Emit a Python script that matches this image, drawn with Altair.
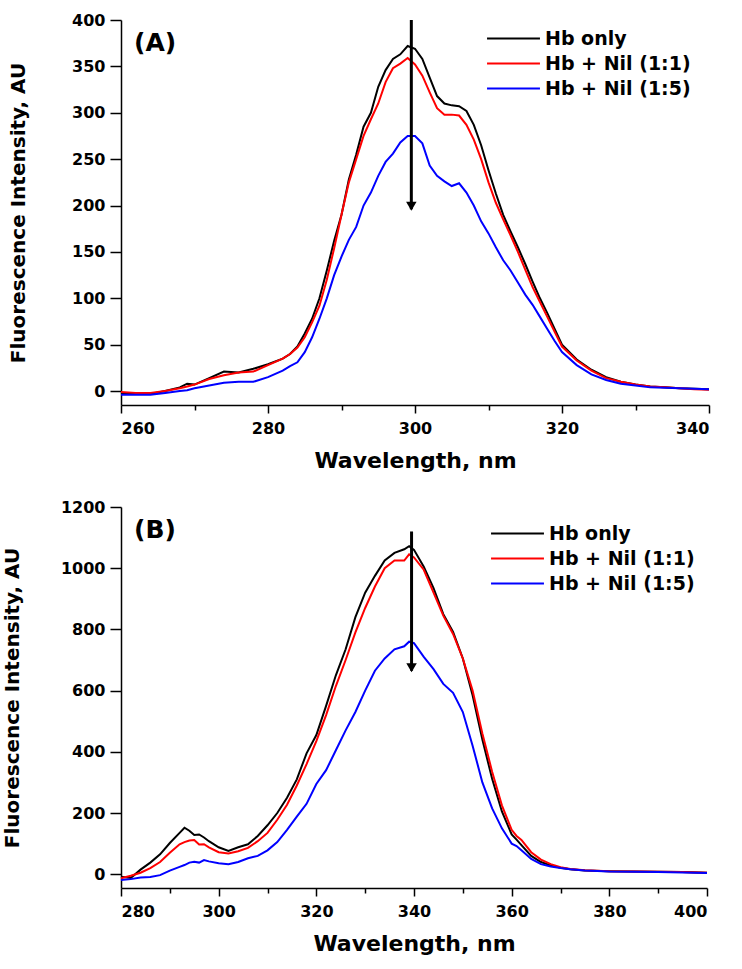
import altair as alt
import pandas as pd

FONT = "DejaVu Sans"
SERIES = ["Hb only", "Hb + Nil (1:1)", "Hb + Nil (1:5)"]
COLORS = ["#000000", "#ff0000", "#0000ff"]

# ---- Panel A: emission spectra, 260-340 nm ----
wl_a = [260, 262, 264, 266, 268, 269, 270, 272, 274, 276, 278, 280, 282,
        283, 284, 285, 286, 287, 288, 289, 290, 291, 292, 293, 294, 295,
        296, 297, 298, 299, 300, 301, 302, 303, 304, 305, 306, 307, 308,
        309, 310, 311, 312, 313, 314, 315, 316, 317, 318, 319, 320, 322,
        324, 326, 328, 330, 332, 334, 336, 338, 340]
hb_a = [-2, -3, -3, 0, 4, 8, 7, 14, 21, 20, 24, 29, 35,
        40, 48, 62, 78, 100, 130, 162, 190, 228, 255, 285, 300, 328,
        346, 358, 363, 372, 369, 358, 338, 318, 310, 308, 307, 302, 287,
        265, 238, 213, 190, 172, 155, 137, 118, 100, 84, 67, 50, 34,
        23, 15, 10, 7, 5, 4, 3, 2.5, 2]
nil11_a = [-1, -2, -2, 0, 3, 5, 7, 13, 17, 20, 21, 28, 35,
           40, 47, 58, 74, 92, 120, 154, 190, 225, 250, 275, 293, 310,
           333, 348, 353, 359, 352, 340, 322, 305, 298, 298, 297, 287, 271,
           250, 225, 203, 185, 168, 150, 131, 112, 96, 80, 64, 48, 33,
           22, 14, 10, 7, 5, 4, 3, 2, 1.5]
nil15_a = [-4, -4, -4, -2, 0, 1, 3, 6, 9, 10, 10, 15, 22,
           27, 31, 42, 58, 78, 100, 125, 145, 163, 177, 200, 214, 232,
           247, 256, 268, 275, 275, 267, 243, 232, 226, 221, 224, 214, 200,
           183, 170, 155, 141, 130, 117, 104, 93, 80, 67, 54, 42, 28,
           18, 12, 8, 6, 4, 3.5, 3, 2.5, 2]

# ---- Panel B: emission spectra, 280-400 nm ----
wl_b = [280, 282, 284, 286, 288, 290, 292, 293, 294, 295, 296, 297, 298,
        300, 302, 304, 306, 308, 310, 312, 314, 316, 318, 320, 322, 324,
        326, 328, 330, 332, 334, 336, 338, 339, 340, 342, 344, 346, 348,
        350, 352, 354, 356, 358, 360, 361, 362, 364, 366, 368, 370, 372,
        375, 380, 385, 390, 395, 400]
hb_b = [-8, -12, 15, 38, 65, 102, 135, 152, 142, 128, 130, 120, 108,
        88, 76, 88, 98, 125, 160, 200, 250, 310, 395, 455, 550, 650,
        735, 840, 920, 975, 1025, 1050, 1062, 1072, 1060, 1005, 935, 850, 792,
        705, 585, 440, 312, 205, 130, 113, 95, 60, 40, 29, 21, 16,
        12, 10, 9, 8, 7, 5]
nil11_b = [-13, -5, 5, 20, 40, 70, 98, 105, 110, 112, 97, 98, 88,
           72, 68, 75, 86, 108, 135, 178, 227, 290, 360, 435, 520, 615,
           700, 790, 870, 940, 1000, 1025, 1025, 1045, 1035, 995, 920, 845, 785,
           705, 600, 460, 335, 225, 145, 125, 112, 72, 48, 33, 23, 17,
           13, 10, 9, 8, 7, 5]
nil15_b = [-19, -16, -11, -9, -3, 12, 24, 30, 38, 41, 38, 46, 42,
           36, 33, 40, 52, 60, 78, 105, 145, 188, 230, 295, 340, 405,
           470, 530, 600, 665, 705, 735, 745, 760, 755, 710, 670, 622, 593,
           530, 420, 300, 215, 150, 100, 92, 78, 50, 33, 25, 20, 16,
           12, 9, 8, 7, 6, 4]

# Quenching arrows: wavelength, start and tip intensity
arrow_a = {"x": [299.5], "y1": [400], "y2": [196]}
arrow_b = {"x": [339.5], "y1": [1120], "y2": [665]}

# Axis ticks (major ticks carry labels)
xticks_a = list(range(260, 341, 10))
yticks_a = list(range(0, 401, 25))
xticks_b = list(range(280, 401, 10))
yticks_b = list(range(0, 1201, 100))


def long_table(wl, series_values):
    rows = []
    for rank, (name, vals) in enumerate(zip(SERIES, series_values)):
        for w, v in zip(wl, vals):
            rows.append({"wavelength": w, "intensity": v, "series": name, "rank": rank})
    return pd.DataFrame(rows)


def panel(df, tag, xdom, ydom, xticks, yticks, xstep, ystep, arrow,
          width, height, title_pad, legend_x, legend_y):
    x_axis = alt.Axis(
        values=xticks, format="d",
        labelExpr=f"datum.value % {xstep} === 0 ? datum.label : ''",
        tickSize={"condition": {"test": f"datum.value % {xstep} === 0", "value": 8}, "value": 5},
        labelPadding=7, title="Wavelength, nm", titleFontSize=22, titlePadding=14,
    )
    y_axis = alt.Axis(
        values=yticks, format="d",
        labelExpr=f"datum.value % {ystep} === 0 ? datum.label : ''",
        tickSize={"condition": {"test": f"datum.value % {ystep} === 0", "value": 11}, "value": 6},
        labelPadding=5, title="Fluorescence Intensity, AU", titleFontSize=20,
        titlePadding=title_pad,
    )
    xs = alt.Scale(domain=xdom, nice=False, zero=False)
    ys = alt.Scale(domain=ydom, nice=False, zero=False)

    lines = alt.Chart(df).mark_line(strokeWidth=2).encode(
        x=alt.X("wavelength:Q", scale=xs, axis=x_axis),
        y=alt.Y("intensity:Q", scale=ys, axis=y_axis),
        color=alt.Color(
            "series:N",
            scale=alt.Scale(domain=SERIES, range=COLORS),
            sort=SERIES,
            legend=alt.Legend(
                orient="none", legendX=legend_x, legendY=legend_y, title=None,
                symbolType="M-10,0H10", symbolSize=28, symbolStrokeWidth=2,
                labelFont=FONT, labelFontSize=19, labelFontWeight="bold",
                labelColor="black", labelOffset=22, rowPadding=5, padding=0,
                labelLimit=400,
            ),
        ),
        order=alt.Order("rank:Q"),
    )

    adf = pd.DataFrame(arrow)
    shaft = alt.Chart(adf).mark_rule(strokeWidth=3, color="black").encode(
        x="x:Q", y="y1:Q", y2="y2:Q"
    )
    head = alt.Chart(adf).mark_point(
        shape="triangle-down", filled=True, size=110, color="black", opacity=1, yOffset=-3
    ).encode(x="x:Q", y="y2:Q")

    label = alt.Chart(pd.DataFrame({"tag": [tag]})).mark_text(
        font=FONT, fontSize=25, fontWeight="bold", align="left", baseline="middle",
        color="black",
    ).encode(x=alt.value(13), y=alt.value(23), text="tag:N")

    return alt.layer(lines, shaft, head, label).properties(width=width, height=height)


df_a = long_table(wl_a, [hb_a, nil11_a, nil15_a])
df_b = long_table(wl_b, [hb_b, nil11_b, nil15_b])

chart_a = panel(df_a, "(A)", [260, 340], [-15, 400], xticks_a, yticks_a, 20, 50,
                arrow_a, 588, 385, 43, 383, 9)
chart_b = panel(df_b, "(B)", [280, 400], [-45, 1200], xticks_b, yticks_b, 20, 200,
                arrow_b, 586, 381, 38, 387, 17)

chart = alt.vconcat(chart_a, chart_b, spacing=28).resolve_scale(
    color="independent"
).properties(
    padding={"left": 2, "top": 12, "right": 5, "bottom": 5}
).configure_view(stroke=None).configure_axis(
    grid=False,
    domainColor="black", domainWidth=1.5,
    tickColor="black", tickWidth=1.5,
    labelFont=FONT, labelFontSize=16, labelFontWeight="bold", labelColor="black",
    titleFont=FONT, titleFontWeight="bold", titleColor="black",
)

chart.save("out.html", embed_options={"renderer": "svg", "actions": False})
